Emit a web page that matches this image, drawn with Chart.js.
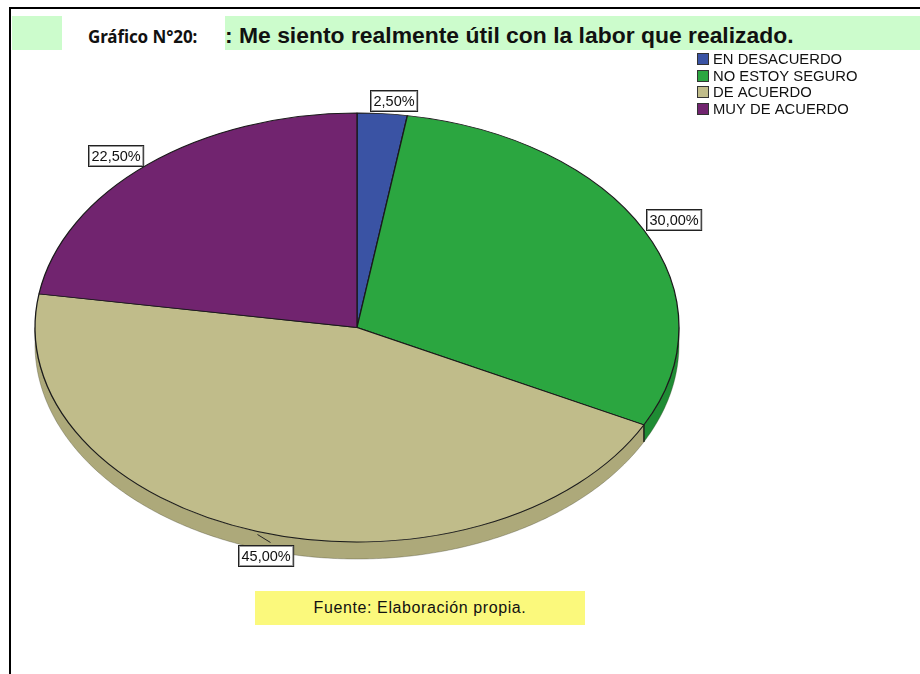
<!DOCTYPE html>
<html lang="es">
<head>
<meta charset="utf-8">
<title>Gráfico N°20</title>
<script src="https://cdn.jsdelivr.net/npm/chart.js@4.4.1/dist/chart.umd.min.js"></script>
<style>
    body { margin: 0; width: 920px; height: 674px; overflow: hidden; background: #fff; position: relative; font-family: 'Liberation Sans', Arial, sans-serif; }
    .linea-top { position: absolute; left: 9px; top: 7px; width: 911px; height: 2px; background: #000; }
    .linea-izq { position: absolute; left: 9px; top: 7px; width: 2px; height: 667px; background: #000; }
    .banda { position: absolute; left: 12px; top: 16px; width: 908px; height: 34px; background: #ccfccc; }
    .caja { position: absolute; left: 62px; top: 16px; width: 163px; height: 34px; background: #fff;
            font: bold 17px 'Noto Sans', sans-serif; line-height: 34px; padding-left: 26px; box-sizing: border-box; padding-top: 4px; color: #111; letter-spacing: -0.1px; }
    .titulo { position: absolute; left: 225px; top: 22px; font: bold 22.9px 'Liberation Sans', Arial, sans-serif; line-height: 26px; color: #111; white-space: nowrap; }
    .fuente { position: absolute; left: 255px; top: 591px; width: 330px; height: 34px; background: #fbf97c;
              font: 16px 'Liberation Sans', Arial, sans-serif; letter-spacing: 0.6px; line-height: 34px; text-align: center; color: #111; }
    canvas { position: absolute; left: 0; top: 0; }
</style>
</head>
<body>
<div class="linea-top"></div>
<div class="linea-izq"></div>
<div class="banda"></div>
<div class="caja">Gráfico N°20:</div>
<div class="titulo">: Me siento realmente útil con la labor que realizado.</div>
<div class="fuente">Fuente: Elaboración propia.</div>
<canvas id="grafico" width="920" height="674"></canvas>
<script>
    // Datos del gráfico
    const categorias = ['EN DESACUERDO', 'NO ESTOY SEGURO', 'DE ACUERDO', 'MUY DE ACUERDO'];
    const porcentajes = [2.5, 30, 45, 22.5];
    const colores = ['#3a53a4', '#2ba640', '#c0bc8a', '#71246f'];
    const coloresLado = ['#2c3f7d', '#1f8c34', '#ada97a', '#571b55'];

    // Pastel inclinado: centro destino y aplastamiento vertical
    const CENTRO_Y = 327.5;
    const K = 214.5 / 322;
    const PROF = 17;
    // pequeños ajustes de posición de las etiquetas (layout)
    const ajustes = [[-12, -3], [2, 0], [-4, 0], [-5, 2]];

    const formato = v => v.toFixed(2).replace('.', ',') + '%';

    function puntoElipse(cx, R, t) {
        return [cx + R * Math.cos(t), CENTRO_Y + R * K * Math.sin(t)];
    }

    const pastel3d = {
        id: 'pastel3d',
        beforeDatasetsDraw(chart) {
            const ctx = chart.ctx;
            const meta = chart.getDatasetMeta(0);
            const cx = meta.data[0].x, cy = meta.data[0].y, R = meta.data[0].outerRadius;

            // lado frontal del pastel
            ctx.save();
            meta.data.forEach((arc, i) => {
                const a = Math.max(arc.startAngle, 0);
                const b = Math.min(arc.endAngle, Math.PI);
                if (b <= a) return;
                const pts = [];
                for (let t = a; t < b; t += 0.01) pts.push(puntoElipse(cx, R, t));
                pts.push(puntoElipse(cx, R, b));
                ctx.beginPath();
                pts.forEach((p, j) => j ? ctx.lineTo(p[0], p[1]) : ctx.moveTo(p[0], p[1]));
                for (let j = pts.length - 1; j >= 0; j--) ctx.lineTo(pts[j][0], pts[j][1] + PROF);
                ctx.closePath();
                ctx.fillStyle = coloresLado[i];
                ctx.fill();
                ctx.strokeStyle = 'rgba(60,60,40,0.4)';
                ctx.lineWidth = 0.8;
                ctx.stroke();
                // arista vertical en el borde de la porción
                if (arc.startAngle > 0 && arc.startAngle < Math.PI) {
                    const p = puntoElipse(cx, R, arc.startAngle);
                    ctx.beginPath();
                    ctx.moveTo(p[0], p[1]);
                    ctx.lineTo(p[0], p[1] + PROF);
                    ctx.strokeStyle = '#111';
                    ctx.lineWidth = 1.2;
                    ctx.stroke();
                }
            });
            ctx.restore();

            // cara superior aplastada
            ctx.save();
            ctx.translate(0, CENTRO_Y);
            ctx.scale(1, K);
            ctx.translate(0, -cy);
        },
        afterDatasetsDraw(chart) {
            const ctx = chart.ctx;
            ctx.restore();
            const meta = chart.getDatasetMeta(0);
            const cx = meta.data[0].x, R = meta.data[0].outerRadius;

            // etiquetas de porcentaje
            ctx.save();
            ctx.font = '14.5px "Liberation Sans", Arial, sans-serif';
            ctx.textBaseline = 'middle';
            meta.data.forEach((arc, i) => {
                const medio = (arc.startAngle + arc.endAngle) / 2;
                let [x, y] = puntoElipse(cx, R, medio);
                const txt = formato(porcentajes[i]);
                const w = ctx.measureText(txt).width + 6;
                const h = 21;
                let bx, by;
                if (y > CENTRO_Y) {
                    // etiqueta inferior con línea guía
                    ctx.beginPath();
                    ctx.moveTo(x, y + 3);
                    ctx.lineTo(x + 13, y + 11);
                    ctx.strokeStyle = '#222';
                    ctx.lineWidth = 1;
                    ctx.stroke();
                    bx = x + 12 - w / 2;
                    by = y + 13;
                } else {
                    bx = x > cx ? x : x - w;
                    by = y - h;
                }
                bx += ajustes[i][0];
                by += ajustes[i][1];
                bx = Math.round(bx) + 0.5;
                by = Math.round(by) + 0.5;
                ctx.fillStyle = '#fff';
                ctx.fillRect(bx, by, w, h);
                ctx.strokeStyle = '#999';
                ctx.lineWidth = 1;
                ctx.strokeRect(bx + 1, by + 1, w - 2, h - 2);
                ctx.strokeStyle = '#222';
                ctx.strokeRect(bx, by, w, h);
                ctx.fillStyle = '#111';
                ctx.fillText(txt, bx + 3, by + h / 2 + 1);
            });
            ctx.restore();
        },
        afterDraw(chart) {
            // leyenda
            const ctx = chart.ctx;
            ctx.save();
            ctx.font = '14.8px "Liberation Sans", Arial, sans-serif';
            ctx.textBaseline = 'middle';
            chart.data.labels.forEach((lab, i) => {
                const y = 59 + i * 16.6;
                ctx.fillStyle = colores[i];
                ctx.fillRect(697.5, Math.round(y - 6) + 0.5, 11, 11);
                ctx.strokeStyle = '#333';
                ctx.lineWidth = 1;
                ctx.strokeRect(697.5, Math.round(y - 6) + 0.5, 11, 11);
                ctx.fillStyle = '#111';
                ctx.fillText(lab, 713, y + 1);
            });
            ctx.restore();
        }
    };

    new Chart(document.getElementById('grafico'), {
        type: 'pie',
        data: {
            labels: categorias,
            datasets: [{
                data: porcentajes,
                backgroundColor: colores,
                borderColor: '#1a1a1a',
                borderWidth: 1.3,
                clip: false
            }]
        },
        options: {
            responsive: false,
            animation: false,
            devicePixelRatio: 1,
            radius: 322,
            layout: { padding: { left: 35, right: 241, top: 15, bottom: 15 } },
            plugins: {
                legend: { display: false },
                tooltip: { enabled: false }
            }
        },
        plugins: [pastel3d]
    });
</script>
</body>
</html>
